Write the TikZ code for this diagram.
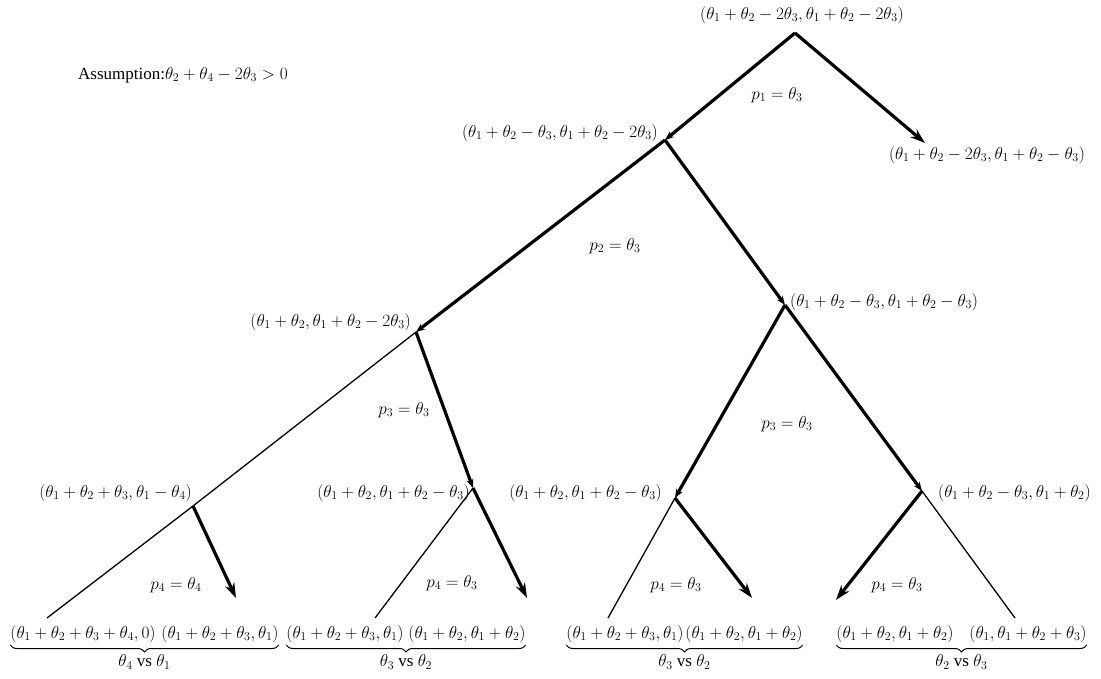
\documentclass[tikz,border=0pt]{standalone}
\usepackage{fontspec}
\setmainfont{Liberation Serif}
\usetikzlibrary{arrows.meta,decorations.pathreplacing}
\begin{document}
\begin{tikzpicture}[x=1pt,y=-1pt,
  every node/.style={font=\fontsize{17}{20}\selectfont, inner sep=0pt},
  heavy/.style={line width=3.2pt},
  light/.style={line width=1.3pt},
  tip/.style={-{Stealth[length=15pt,width=10pt]}},
  smalltip/.style={-{Stealth[length=9pt,width=7pt]}},
  brc/.style={decorate,decoration={brace,mirror,amplitude=7pt},line width=1pt},
]
\useasboundingbox (0,0) rectangle (1101,678);
% vertices
\coordinate (R) at (795,33);
\coordinate (A) at (665,140);
\coordinate (T) at (925,143);
\coordinate (B) at (416,332);
\coordinate (C) at (785,305);
\coordinate (D) at (193,506);
\coordinate (E) at (473,488);
\coordinate (F) at (675,498);
\coordinate (G) at (922,491);
\coordinate (d1) at (47,618);
\coordinate (d2) at (236,598);
\coordinate (e1) at (375,618);
\coordinate (e2) at (527,598);
\coordinate (f1) at (608,618);
\coordinate (f2) at (752,598);
\coordinate (g1) at (836,600);
\coordinate (g2) at (1015,618);
% edges
\draw[heavy,smalltip] (R) -- (A);
\draw[heavy,tip] (R) -- (T);
\draw[heavy,smalltip] (A) -- (B);
\draw[heavy,smalltip] (A) -- (C);
\draw[light] (B) -- (D);
\draw[light] (D) -- (d1);
\draw[heavy,tip] (D) -- (d2);
\draw[heavy,smalltip] (B) -- (E);
\draw[heavy,tip] (E) -- (e2);
\draw[light] (E) -- (e1);
\draw[heavy,smalltip] (C) -- (F);
\draw[heavy,smalltip] (C) -- (G);
\draw[light] (F) -- (f1);
\draw[heavy,tip] (F) -- (f2);
\draw[heavy,tip] (G) -- (g1);
\draw[light] (G) -- (g2);
% labels
\node[anchor=west] (as) at (78,75) {Assumption:$\theta_2+\theta_4-2\theta_3>0$};
\node (Rl) at (802,15) {$(\theta_1+\theta_2-2\theta_3,\theta_1+\theta_2-2\theta_3)$};
\node (Tl) at (987,155) {$(\theta_1+\theta_2-2\theta_3,\theta_1+\theta_2-\theta_3)$};
\node[anchor=east] (Al) at (658,133) {$(\theta_1+\theta_2-\theta_3,\theta_1+\theta_2-2\theta_3)$};
\node[anchor=east] (Bl) at (411,322) {$(\theta_1+\theta_2,\theta_1+\theta_2-2\theta_3)$};
\node[anchor=west] (Cl) at (790,302) {$(\theta_1+\theta_2-\theta_3,\theta_1+\theta_2-\theta_3)$};
\node[anchor=east] (Dl) at (192,493) {$(\theta_1+\theta_2+\theta_3,\theta_1-\theta_4)$};
\node[anchor=east] (El) at (470,493) {$(\theta_1+\theta_2,\theta_1+\theta_2-\theta_3)$};
\node[anchor=east] (Fl) at (662,493) {$(\theta_1+\theta_2,\theta_1+\theta_2-\theta_3)$};
\node[anchor=west] (Gl) at (938,493) {$(\theta_1+\theta_2-\theta_3,\theta_1+\theta_2)$};
% probabilities
\node (p1) at (777,95) {$p_1=\theta_3$};
\node (p2) at (615,246) {$p_2=\theta_3$};
\node (p3a) at (404,410) {$p_3=\theta_3$};
\node (p3b) at (787,424) {$p_3=\theta_3$};
\node (p4a) at (176,585) {$p_4=\theta_4$};
\node (p4b) at (452,583) {$p_4=\theta_3$};
\node (p4c) at (676,585) {$p_4=\theta_3$};
\node (p4d) at (897,585) {$p_4=\theta_3$};
% leaves
\node (L1) at (83,634) {$(\theta_1+\theta_2+\theta_3+\theta_4,0)$};
\node (L2) at (220,634) {$(\theta_1+\theta_2+\theta_3,\theta_1)$};
\node (L3) at (345,634) {$(\theta_1+\theta_2+\theta_3,\theta_1)$};
\node (L4) at (467,634) {$(\theta_1+\theta_2,\theta_1+\theta_2)$};
\node (L5) at (625,634) {$(\theta_1+\theta_2+\theta_3,\theta_1)$};
\node (L6) at (744,634) {$(\theta_1+\theta_2,\theta_1+\theta_2)$};
\node (L7) at (895,634) {$(\theta_1+\theta_2,\theta_1+\theta_2)$};
\node (L8) at (1028,634) {$(\theta_1,\theta_1+\theta_2+\theta_3)$};
% braces
\draw[brc] (L1.west |- 0,645) -- (L2.east |- 0,645) node[midway,below=9pt] (v1) {$\theta_4$ vs $\theta_1$};
\draw[brc] (L3.west |- 0,645) -- (L4.east |- 0,645) node[midway,below=9pt] (v2) {$\theta_3$ vs $\theta_2$};
\draw[brc] (L5.west |- 0,645) -- (L6.east |- 0,645) node[midway,below=9pt] (v3) {$\theta_3$ vs $\theta_2$};
\draw[brc] (L7.west |- 0,645) -- (L8.east |- 0,645) node[midway,below=9pt] (v4) {$\theta_2$ vs $\theta_3$};
\end{tikzpicture}
\end{document}
